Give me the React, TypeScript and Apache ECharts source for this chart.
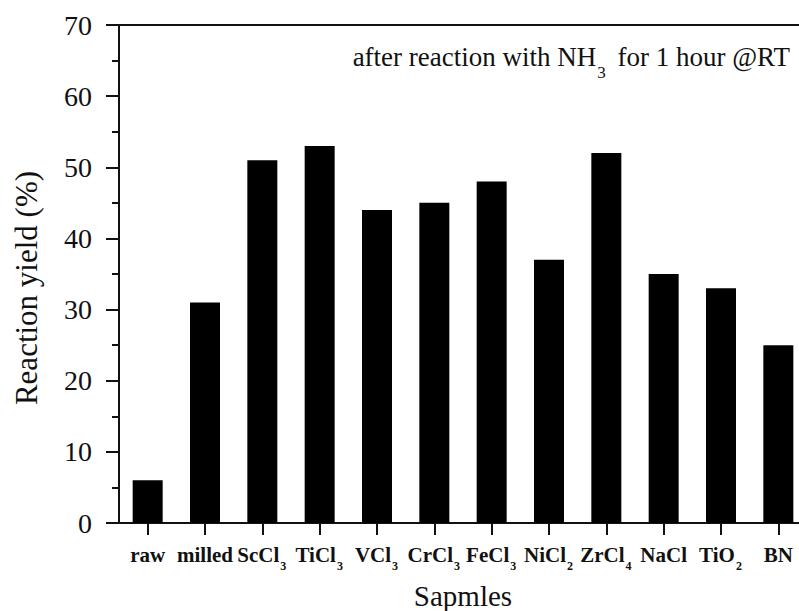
import React, { useEffect, useRef } from "react";
import * as echarts from "echarts";

const categories = ["raw", "milled", "ScCl{s|3}", "TiCl{s|3}", "VCl{s|3}", "CrCl{s|3}", "FeCl{s|3}", "NiCl{s|2}", "ZrCl{s|4}", "NaCl", "TiO{s|2}", "BN"];
const yieldValues = [6, 31, 51, 53, 44, 45, 48, 37, 52, 35, 33, 25];
const yTicks = [0, 10, 20, 30, 40, 50, 60, 70];

const SERIF = "Liberation Serif";

export default function App() {
  const ref = useRef<HTMLDivElement>(null);
  useEffect(() => {
    const chart = echarts.init(ref.current!, null, { renderer: "svg" });
    chart.setOption({
      animation: false,
      backgroundColor: "#ffffff",
      grid: { left: 119, right: 1, top: 25, bottom: 88, containLabel: false, outerBoundsMode: "none" },
      xAxis: [
        {
          type: "category",
          data: categories,
          position: "bottom",
          name: "Sapmles",
          nameLocation: "middle",
          nameGap: 58,
          nameTextStyle: { fontFamily: SERIF, fontSize: 29, color: "#111" },
          axisLine: { show: true, lineStyle: { color: "#111", width: 2 } },
          axisTick: { show: true, alignWithLabel: true, length: 12, lineStyle: { color: "#111", width: 2 } },
          axisLabel: {
            interval: 0,
            margin: 15,
            color: "#111",
            fontFamily: SERIF,
            fontWeight: "bold",
            fontSize: 21,
            lineHeight: 34,
            rich: {
              s: { fontFamily: SERIF, fontWeight: "bold", fontSize: 12, lineHeight: 12, color: "#111", padding: [21, 1, 0, 1] },
            },
          },
          splitLine: { show: false },
        },
        {
          type: "category",
          data: categories,
          position: "top",
          axisLine: { show: true, lineStyle: { color: "#111", width: 2 } },
          axisTick: { show: false },
          axisLabel: { show: false },
        },
      ],
      yAxis: {
        type: "value",
        min: yTicks[0],
        max: yTicks[yTicks.length - 1],
        interval: 10,
        axisLine: { show: true, lineStyle: { color: "#111", width: 2 } },
        axisTick: { show: true, length: 13, lineStyle: { color: "#111", width: 2 } },
        minorTick: { show: true, splitNumber: 2, length: 7, lineStyle: { color: "#111", width: 2 } },
        axisLabel: { margin: 27, color: "#111", fontFamily: SERIF, fontSize: 28 },
        splitLine: { show: false },
      },
      graphic: [
        {
          type: "text",
          x: 26,
          y: 288,
          rotation: Math.PI / 2,
          style: {
            text: "Reaction yield (%)",
            fontFamily: SERIF,
            fontSize: 31,
            fill: "#111",
            textAlign: "center",
            textVerticalAlign: "middle",
          },
        },
        {
          type: "text",
          x: 790,
          y: 32,
          style: {
            text: "after reaction with NH{s|3} for 1 hour @RT",
            fontFamily: SERIF,
            fontSize: 27,
            lineHeight: 50,
            fill: "#111",
            textAlign: "right",
            rich: {
              s: { fontFamily: SERIF, fontSize: 17, lineHeight: 17, fill: "#111", padding: [30, 5, 0, 1] },
            },
          },
        },
      ],
      series: [
        {
          type: "bar",
          data: yieldValues,
          barWidth: 30,
          itemStyle: { color: "#000" },
        },
      ],
    });
    return () => chart.dispose();
  }, []);
  return (
    <div style={{ position: "absolute", left: 0, top: 0, width: 799, height: 611, overflow: "hidden", background: "#fff" }}>
      <div ref={ref} style={{ width: 808, height: 611 }} />
    </div>
  );
}
